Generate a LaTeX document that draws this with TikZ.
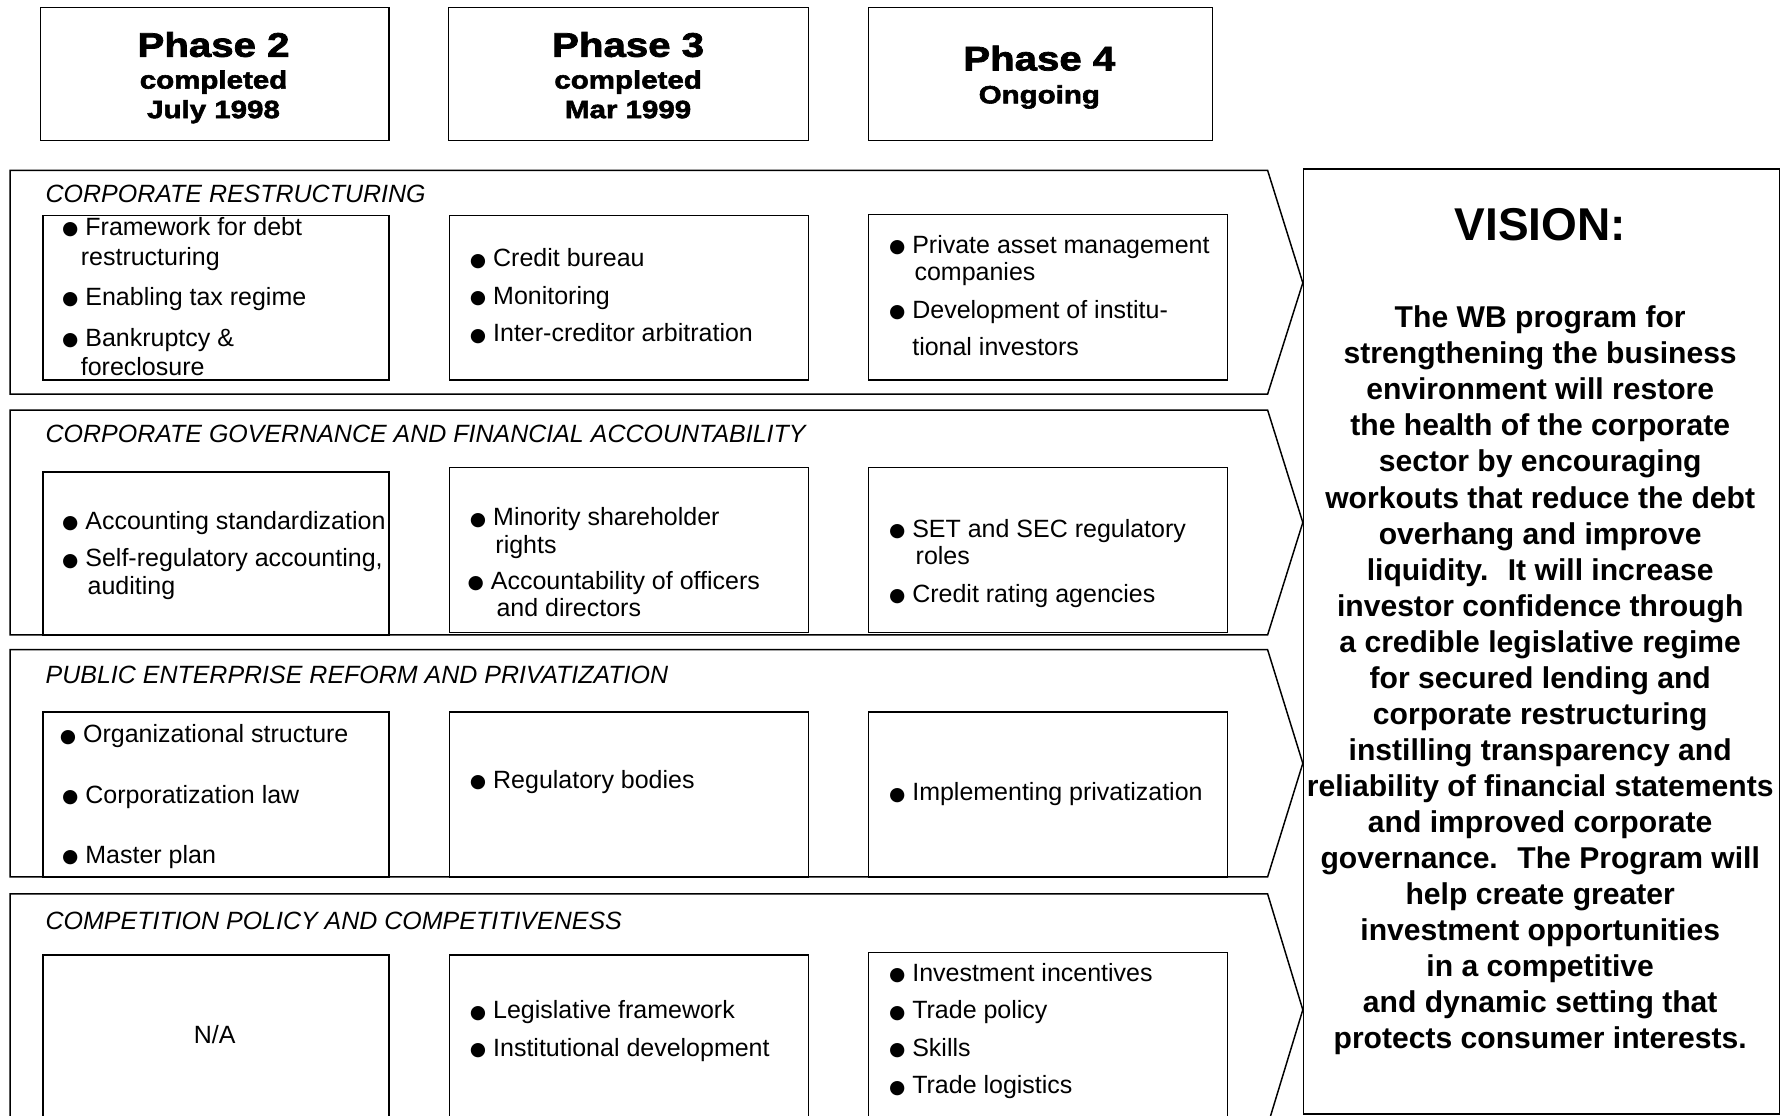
\documentclass[tikz,border=0pt]{standalone}
\usepackage{fontspec}
\setmainfont{Liberation Sans}
\newfontfamily\phasefont{Liberation Sans}[BoldFeatures={FakeStretch=1.18,FakeBold=2.2}]
\newfontfamily\symfont{DejaVu Sans}
\newcommand{\bul}{\makebox[20pt][l]{\hspace{-0.5pt}\raisebox{0.5pt}{\symfont\fontsize{16.5}{16.5}\selectfont ●}}}
\begin{document}
\begin{tikzpicture}[x=1pt,y=-1pt,
  box/.style={draw, line width=1.3pt, inner sep=0pt, anchor=north west},
  band/.style={draw, line width=1.3pt, line join=miter},
  txt/.style={anchor=base west, inner sep=0pt, font=\fontsize{22}{26}\selectfont},
  ttl/.style={anchor=base west, inner sep=0pt, font=\fontsize{22}{26}\selectfont\itshape},
  ph/.style={anchor=base, inner sep=0pt, font=\phasefont\bfseries\fontsize{30}{34}\selectfont},
  phs/.style={anchor=base, inner sep=0pt, font=\phasefont\bfseries\fontsize{22}{26}\selectfont},
  vis/.style={anchor=base, inner sep=0pt, font=\bfseries\fontsize{26.5}{30}\selectfont}]
\useasboundingbox (0,0) rectangle (1568,982);
\clip (0,0) rectangle (1568,982);
\fill[white] (0,0) rectangle (1568,982);

% phase headers
\node[box, minimum width=307pt, minimum height=117pt] (p2) at (35,6) {};
\node[box, minimum width=317pt, minimum height=117pt] (p3) at (394,6) {};
\node[box, minimum width=303pt, minimum height=117pt] (p4) at (764,6) {};
\node[ph] (p2a) at (188,50) {Phase 2};
\node[phs] (p2b) at (188,78) {completed};
\node[phs] (p2c) at (188,104) {July 1998};
\node[ph] (p3a) at (553,50) {Phase 3};
\node[phs] (p3b) at (553,78) {completed};
\node[phs] (p3c) at (553,104) {Mar 1999};
\node[ph] (p4a) at (915,62) {Phase 4};
\node[phs] (p4b) at (915,91) {Ongoing};

% bands
\draw[band] (9,150) -- (1116,150) -- (1147,249) -- (1116,347) -- (9,347) -- cycle;
\draw[band] (9,361) -- (1116,361) -- (1147,460) -- (1116,559) -- (9,559) -- cycle;
\draw[band] (9,572) -- (1116,572) -- (1147,672) -- (1116,772) -- (9,772) -- cycle;
\draw[band] (9,787) -- (1116,787) -- (1147,889) -- (1116,991) -- (9,991) -- cycle;

% vision box
\node[box, minimum width=419pt, minimum height=832pt] (vb) at (1147,148) {};

% row titles
\node[ttl] (t1) at (40,178) {CORPORATE RESTRUCTURING};
\node[ttl] (t2) at (40,390) {CORPORATE GOVERNANCE AND FINANCIAL ACCOUNTABILITY};
\node[ttl] (t3) at (40,602) {PUBLIC ENTERPRISE REFORM AND PRIVATIZATION};
\node[ttl] (t4) at (40,818) {COMPETITION POLICY AND COMPETITIVENESS};

% inner boxes
\node[box, minimum width=305pt, minimum height=145pt] (b11) at (37,189) {};
\node[box, minimum width=316pt, minimum height=145pt] (b12) at (395,189) {};
\node[box, minimum width=316pt, minimum height=146pt] (b13) at (764,188) {};
\node[box, minimum width=305pt, minimum height=144pt] (b21) at (37,415) {};
\node[box, minimum width=316pt, minimum height=145pt] (b22) at (395,411) {};
\node[box, minimum width=316pt, minimum height=145pt] (b23) at (764,411) {};
\node[box, minimum width=305pt, minimum height=146pt] (b31) at (37,626) {};
\node[box, minimum width=316pt, minimum height=146pt] (b32) at (395,626) {};
\node[box, minimum width=316pt, minimum height=146pt] (b33) at (764,626) {};
\node[box, minimum width=305pt, minimum height=160pt] (b41) at (37,840) {};
\node[box, minimum width=316pt, minimum height=160pt] (b42) at (395,840) {};
\node[box, minimum width=316pt, minimum height=162pt] (b43) at (764,838) {};

% row 1
\node[txt] (a1) at (55,207) {\bul Framework for debt};
\node[txt] (a2) at (71,234) {restructuring};
\node[txt] (a3) at (55,269) {\bul Enabling tax regime};
\node[txt] (a4) at (55,305) {\bul Bankruptcy \&};
\node[txt] (a5) at (71,331) {foreclosure};
\node[txt] (a6) at (414,235) {\bul Credit bureau};
\node[txt] (a7) at (414,268) {\bul Monitoring};
\node[txt] (a8) at (414,301) {\bul Inter-creditor arbitration};
\node[txt] (a9) at (783,223) {\bul Private asset management};
\node[txt] (a10) at (805,247) {companies};
\node[txt] (a11) at (783,280) {\bul Development of institu-};
\node[txt] (a12) at (803,313) {tional investors};

% row 2
\node[txt] (c1) at (55,466) {\bul Accounting standardization};
\node[txt] (c2) at (55,499) {\bul Self-regulatory accounting,};
\node[txt] (c3) at (77,523) {auditing};
\node[txt] (c4) at (414,463) {\bul Minority shareholder};
\node[txt] (c5) at (436,487) {rights};
\node[txt] (c6) at (412,519) {\bul Accountability of officers};
\node[txt] (c7) at (437,543) {and directors};
\node[txt] (c8) at (783,473) {\bul SET and SEC regulatory};
\node[txt] (c9) at (806,497) {roles};
\node[txt] (c10) at (783,530) {\bul Credit rating agencies};

% row 3
\node[txt] (d1) at (53,654) {\bul Organizational structure};
\node[txt] (d2) at (55,707) {\bul Corporatization law};
\node[txt] (d3) at (55,760) {\bul Master plan};
\node[txt] (d4) at (414,694) {\bul Regulatory bodies};
\node[txt] (d5) at (783,705) {\bul Implementing privatization};

% row 4
\node[anchor=base, inner sep=0pt, font=\fontsize{22}{26}\selectfont] (e1) at (189,919) {N/A};
\node[txt] (e2) at (414,897) {\bul Legislative framework};
\node[txt] (e3) at (414,930) {\bul Institutional development};
\node[txt] (e4) at (783,864) {\bul Investment incentives};
\node[txt] (e5) at (783,897) {\bul Trade policy};
\node[txt] (e6) at (783,930) {\bul Skills};
\node[txt] (e7) at (783,963) {\bul Trade logistics};

% vision text
\node[anchor=base, inner sep=0pt, font=\bfseries\fontsize{40.5}{44}\selectfont] (vt) at (1356,211.5) {VISION:};
\foreach \t [count=\i] in {The WB program for, strengthening the business, environment will restore, the health of the corporate, sector by encouraging, workouts that reduce the debt, overhang and improve, liquidity.~ It will increase, investor confidence through, a credible legislative regime, for secured lending and, corporate restructuring, instilling transparency and, reliability of financial statements, and improved corporate, governance.~ The Program will, help create greater, investment opportunities, in a competitive, and dynamic setting that, protects consumer interests.}
  \node[vis] (v\i) at (1356,{288.5+31.75*(\i-1)}) {\t};
\end{tikzpicture}
\end{document}
